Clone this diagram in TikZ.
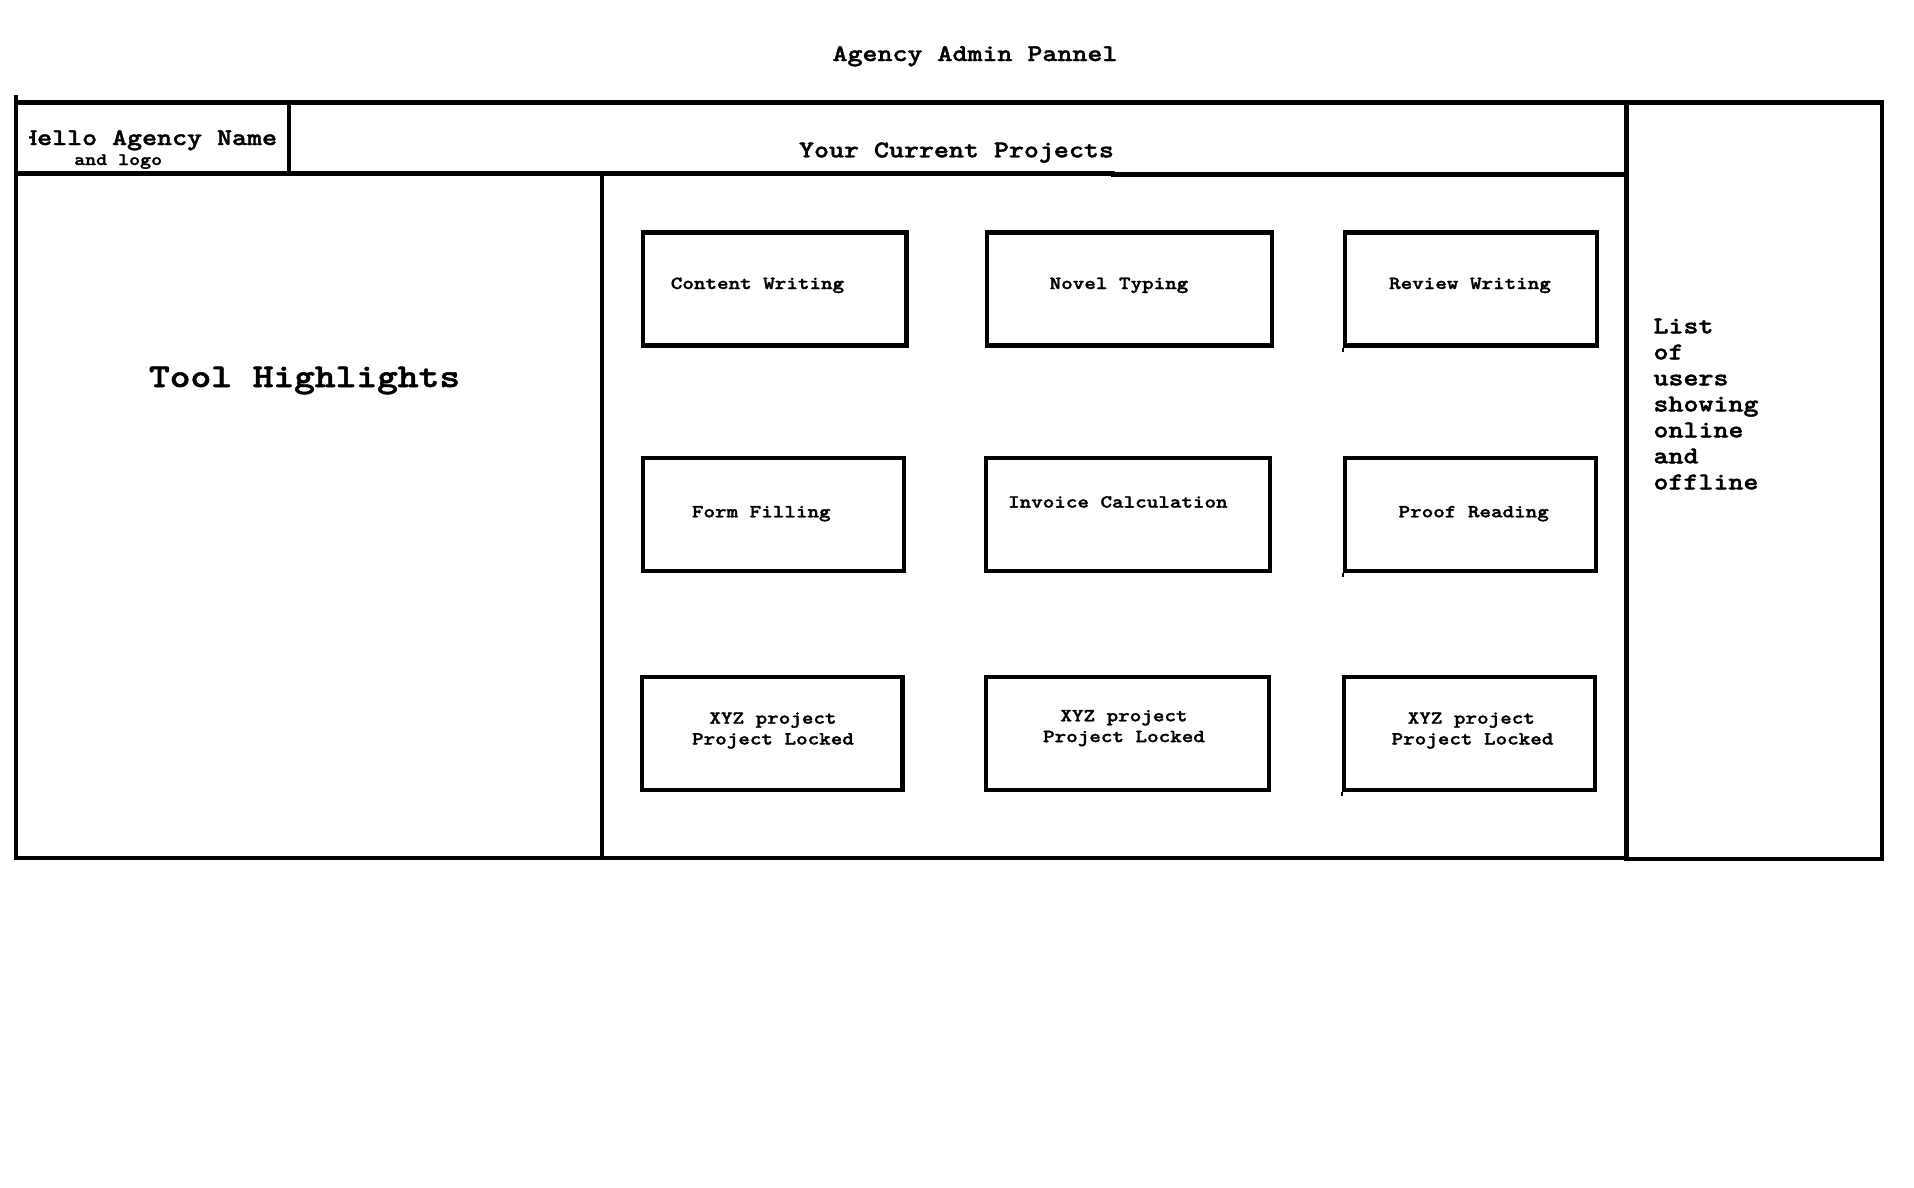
\documentclass[tikz,border=0pt]{standalone}
\usepackage{fontspec}
\newfontfamily\tw[FakeBold=1.6,FakeStretch=1.19]{lmmonolt10-bold.otf}
\begin{document}
\begin{tikzpicture}[x=1pt,y=-1pt,
  frame/.style={line width=4.5pt,line cap=rect},
  projbox/.style={draw,line width=4.3pt,minimum height=113pt,inner sep=0pt},
  lbl/.style={inner sep=0pt,anchor=base,font=\fontsize{18.5}{19}\tw},
  big/.style={inner sep=0pt,font=\fontsize{24}{25}\tw},
  tick/.style={line width=1.6pt}]
\useasboundingbox (0,0) rectangle (1914,1187);
% title
\node[big,anchor=base] (title) at (975,61) {Agency Admin Pannel};
% frame corners
\coordinate (tl) at (16,102.5);
\coordinate (tr) at (1882,102.5);
\coordinate (bl) at (16,858);
\coordinate (br) at (1882,859);
\coordinate (ltop) at (16,97);
\coordinate (dtop) at (1626.5,102.5);
\coordinate (dbot) at (1626.5,858);
\coordinate (dbot2) at (1626.5,859);
\coordinate (logor) at (289,102.5);
\coordinate (logob) at (289,174);
\coordinate (ul1) at (16,173.7);
\coordinate (ulm) at (1113,173.7);
\coordinate (ulm2) at (1113,174.5);
\coordinate (ul2) at (1626.5,174.5);
\coordinate (ltd) at (602,174);
\coordinate (lbd) at (602,858);
\draw[frame] (tl) -- (tr) -- (br);
\draw[frame] (ltop) -- (bl) -- (dbot);
\draw[frame] (dbot2) -- (br);
\draw[frame] (dtop) -- (dbot);
\draw[frame] (logor) -- (logob);
\draw[frame] (ul1) -- (ulm);
\draw[frame] (ulm2) -- (ul2);
\draw[frame] (ltd) -- (lbd);
\coordinate (fa) at (23,100.5);
\coordinate (fb) at (33,100.5);
\draw[line width=2pt] (fa) -- (fb);
% logo texts
\begin{scope}
\clip (29,108) rectangle (286,171);
\node[big,anchor=base west] (hello) at (22,145) {Hello Agency Name};
\end{scope}
\node[inner sep=0pt,anchor=base west,font=\fontsize{17.6}{18}\tw] (logo) at (74,165) {and logo};
% header
\node[big,anchor=base] (cur) at (956.5,157.3) {Your Current Projects};
% tool highlights
\node[inner sep=0pt,anchor=base,font=\fontsize{33.2}{34}\tw] (tools) at (304.6,387) {Tool Highlights};
% users list
\node[big,anchor=base west] (u1) at (1653.3,333.3) {List};
\node[big,anchor=base west] (u2) at (1653.3,359.3) {of};
\node[big,anchor=base west] (u3) at (1653.3,385.3) {users};
\node[big,anchor=base west] (u4) at (1653.3,411.3) {showing};
\node[big,anchor=base west] (u5) at (1653.3,437.3) {online};
\node[big,anchor=base west] (u6) at (1653.3,463.3) {and};
\node[big,anchor=base west] (u7) at (1653.3,489.3) {offline};
% project boxes
\node[projbox,minimum width=263.5pt] (b11) at (774.75,289) {};
\node[projbox,minimum width=285pt] (b12) at (1129.5,289) {};
\node[projbox,minimum width=252pt] (b13) at (1471,289) {};
\node[projbox,minimum width=261pt] (b21) at (773.5,514.6) {};
\node[projbox,minimum width=284pt] (b22) at (1128,514.6) {};
\node[projbox,minimum width=251pt] (b23) at (1470.5,514.6) {};
\node[projbox,minimum width=260.6pt] (b31) at (772.3,733.8) {};
\node[projbox,minimum width=283pt] (b32) at (1127.5,733.8) {};
\node[projbox,minimum width=251pt] (b33) at (1469.5,733.8) {};
% small ticks
\draw[tick] (b13.south west) -- ++(0,4);
\draw[tick] (b23.south west) -- ++(0,4);
\draw[tick] (b33.south west) -- ++(0,4);
% labels
\node[lbl] (t11) at (757.5,289) {Content Writing};
\node[lbl] (t12) at (1119,289) {Novel Typing};
\node[lbl] (t13) at (1470,289) {Review Writing};
\node[lbl] (t21) at (761.3,517.3) {Form Filling};
\node[lbl] (t22) at (1117.9,507.6) {Invoice Calculation};
\node[lbl] (t23) at (1473.7,517.3) {Proof Reading};
\node[lbl] (t31a) at (773,723.7) {XYZ project};
\node[lbl] (t31b) at (773,744.5) {Project Locked};
\node[lbl] (t32a) at (1124,721.3) {XYZ project};
\node[lbl] (t32b) at (1124,742.1) {Project Locked};
\node[lbl] (t33a) at (1471.3,723.7) {XYZ project};
\node[lbl] (t33b) at (1472.5,744.5) {Project Locked};
\end{tikzpicture}
\end{document}
